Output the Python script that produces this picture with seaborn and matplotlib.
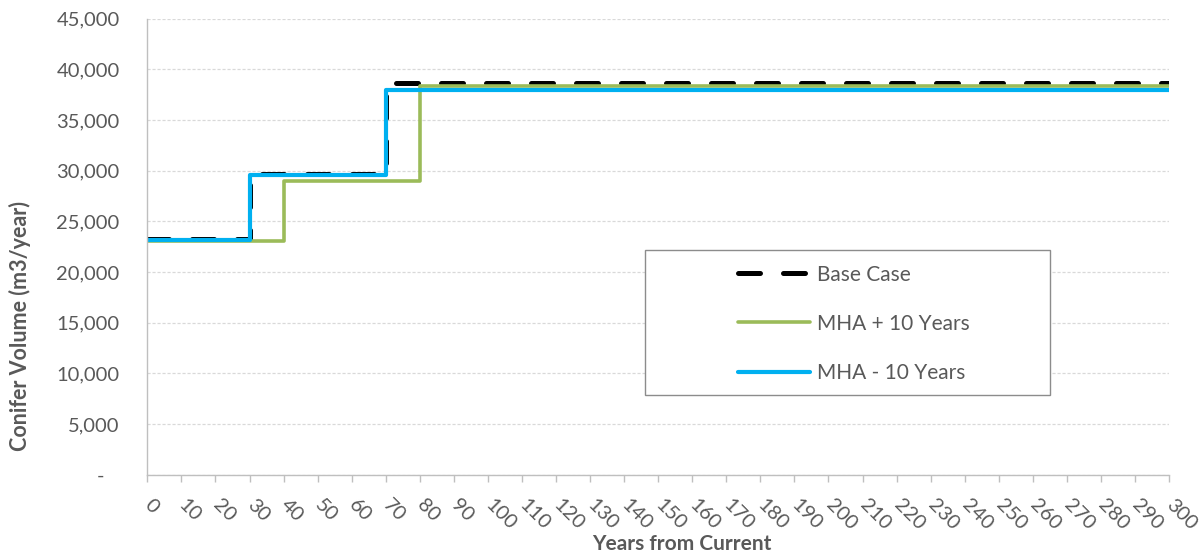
import matplotlib
matplotlib.use("Agg")
import matplotlib.pyplot as plt
import seaborn as sns
import pandas as pd
from matplotlib.patches import Rectangle
from matplotlib.ticker import FuncFormatter

# ---- data ----
years_base = [0, 30, 70, 300]
base_case = [23250, 29650, 38650, 38650]

years_plus = [0, 40, 80, 300]
mha_plus_10 = [23050, 29000, 38400, 38400]

years_minus = [0, 30, 70, 300]
mha_minus_10 = [23150, 29600, 38000, 38000]

series_labels = ["Base Case", "MHA + 10 Years", "MHA - 10 Years"]
x_ticks = list(range(0, 301, 10))
y_ticks = list(range(0, 45001, 5000))

TEXT = "#595959"
GRID = "#D9D9D9"
AXIS = "#BFBFBF"

sns.set_theme(style="white")
plt.rcParams["font.family"] = ["Lato", "DejaVu Sans"]

fig = plt.figure(figsize=(11.99, 5.56), dpi=100)
ax = fig.add_axes([0.1229, 0.1464, 0.975 - 0.1229, 0.9664 - 0.1464])

df_base = pd.DataFrame({"x": years_base, "y": base_case})
df_plus = pd.DataFrame({"x": years_plus, "y": mha_plus_10})
df_minus = pd.DataFrame({"x": years_minus, "y": mha_minus_10})

sns.lineplot(data=df_base, x="x", y="y", ax=ax, color="black", linewidth=3.6,
             drawstyle="steps-post", estimator=None, label=series_labels[0])
ln_base = ax.lines[-1]
ln_base.set_dashes((4.4, 4.6))
ln_base.set_dash_capstyle("round")

sns.lineplot(data=df_plus, x="x", y="y", ax=ax, color="#9BBB59", linewidth=2.6,
             drawstyle="steps-post", estimator=None, label=series_labels[1])
sns.lineplot(data=df_minus, x="x", y="y", ax=ax, color="#00B0F0", linewidth=3.0,
             drawstyle="steps-post", estimator=None, label=series_labels[2])

ax.set_xlim(0, 300)
ax.set_ylim(0, 45000)
ax.set_xticks(x_ticks)
ax.set_yticks(y_ticks)
ax.yaxis.set_major_formatter(FuncFormatter(lambda v, p: "-   " if v == 0 else f"{int(v):,}"))

ax.grid(axis="y", color=GRID, linestyle=(0, (2.5, 1.5)), linewidth=0.9)
ax.grid(axis="x", visible=False)
ax.set_axisbelow(True)

for s in ["top", "right"]:
    ax.spines[s].set_visible(False)
for s in ["left", "bottom"]:
    ax.spines[s].set_color(AXIS)
    ax.spines[s].set_linewidth(1.0)

ax.tick_params(axis="y", length=0, pad=20, labelsize=14.5, labelcolor=TEXT)
ax.tick_params(axis="x", length=5, width=1, color=AXIS, direction="out", pad=15,
               labelsize=14.5, labelcolor=TEXT, bottom=True)
for lab in ax.get_xticklabels():
    lab.set_rotation(-45)
    lab.set_ha("left")
    lab.set_va("center")
    lab.set_rotation_mode("anchor")

ax.set_xlabel("Years from Current", fontsize=15, fontweight="bold", color=TEXT)
ax.set_ylabel("Conifer Volume (m3/year)", fontsize=15.5, fontweight="bold", color=TEXT)
ax.xaxis.set_label_coords(0.523, -0.152)
ax.xaxis.label.set_va("center")
ax.yaxis.set_label_coords(-0.1246, 0.327)
ax.yaxis.label.set_va("center")

# legend box frame
ax.add_patch(Rectangle((0.487, 0.1746), 0.8835 - 0.487, 0.4927 - 0.1746,
                       transform=ax.transAxes, facecolor="white",
                       edgecolor="#8C8C8C", linewidth=1.0, zorder=5))
leg = ax.legend(loc="upper left", bbox_to_anchor=(0.578, 0.4608), frameon=False,
                borderpad=0, borderaxespad=0, handlelength=3.45, handletextpad=0.34,
                labelspacing=1.4, fontsize=15)
leg.set_zorder(6)
for t in leg.get_texts():
    t.set_color(TEXT)

fig.savefig("out.png", dpi=100)
